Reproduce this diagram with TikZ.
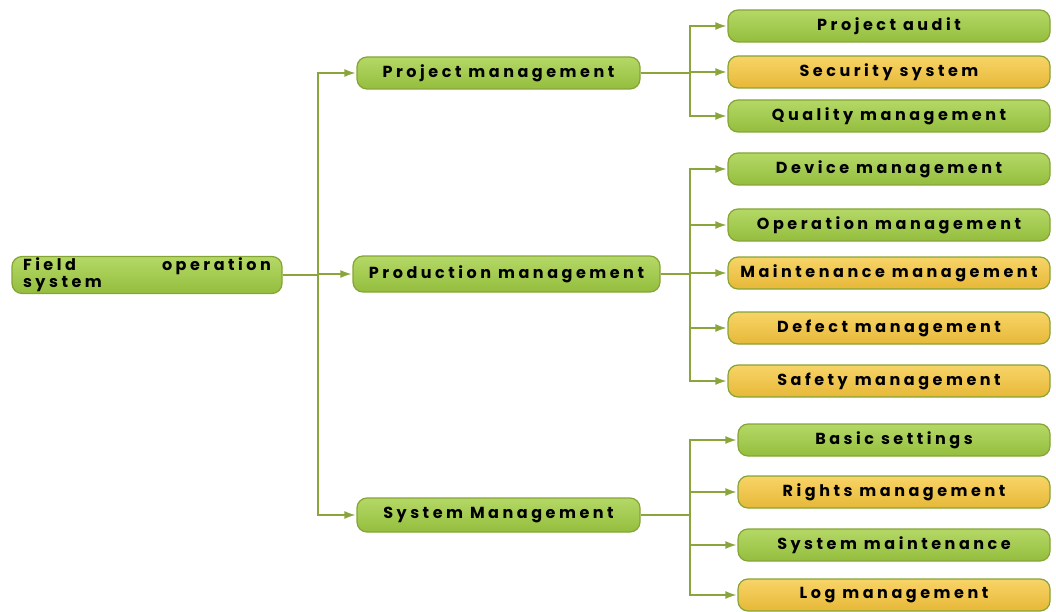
\documentclass[tikz,border=0pt]{standalone}
\usepackage{fontspec}
\setmainfont{Poppins}
\newfontfamily\boxfont[LetterSpace=22]{Poppins}
\usetikzlibrary{arrows.meta}
\definecolor{lineolive}{HTML}{8AA53C}
\definecolor{edgeolive}{HTML}{86A436}
\definecolor{grtop}{HTML}{B4D866}
\definecolor{grmid}{HTML}{A6CE50}
\definecolor{grbot}{HTML}{94BE3E}
\definecolor{yetop}{HTML}{F8D467}
\definecolor{yemid}{HTML}{F3C845}
\definecolor{yebot}{HTML}{E6B838}
\begin{document}
\begin{tikzpicture}
  [x=1pt,y=-1pt,
   every node/.style={rounded corners=10pt,draw=edgeolive,line width=1.2pt,inner sep=0pt,
     font=\boxfont\bfseries\fontsize{16}{17}\selectfont,text=black},
   greenbox/.style={top color=grtop,middle color=grmid,bottom color=grbot},
   yellowbox/.style={top color=yetop,middle color=yemid,bottom color=yebot},
   link/.style={draw=lineolive,line width=2.4pt,-{Latex[length=12pt,width=8pt]}}]
  \useasboundingbox (0,0) rectangle (1056,612);

  \node[greenbox,minimum width=270pt,minimum height=37pt] (root) at (147,275)
    {\parbox{248pt}{Field\hfill operation\\system}};

  \node[greenbox,minimum width=283pt,minimum height=32pt] (proj) at (498.5,73) {Project management};
  \node[greenbox,minimum width=307pt,minimum height=36pt] (prod) at (506.5,274) {Production management};
  \node[greenbox,minimum width=283pt,minimum height=34pt] (sys) at (498.5,515) {System Management};

  \node[greenbox,minimum width=322pt,minimum height=32pt] (audit) at (889,26) {Project audit};
  \node[yellowbox,minimum width=322pt,minimum height=32pt] (secur) at (889,72) {Security system};
  \node[greenbox,minimum width=322pt,minimum height=32pt] (qual) at (889,116) {Quality management};
  \node[greenbox,minimum width=322pt,minimum height=32pt] (dev) at (889,169) {Device management};
  \node[greenbox,minimum width=322pt,minimum height=32pt] (oper) at (889,225) {Operation management};
  \node[yellowbox,minimum width=322pt,minimum height=32pt] (maint) at (889,273) {Maintenance management};
  \node[yellowbox,minimum width=322pt,minimum height=32pt] (defect) at (889,328) {Defect management};
  \node[yellowbox,minimum width=322pt,minimum height=32pt] (safety) at (889,381) {Safety management};
  \node[greenbox,minimum width=312pt,minimum height=32pt] (basic) at (894,440) {Basic settings};
  \node[yellowbox,minimum width=312pt,minimum height=32pt] (rights) at (894,492) {Rights management};
  \node[greenbox,minimum width=312pt,minimum height=32pt] (sysmt) at (894,545) {System maintenance};
  \node[yellowbox,minimum width=312pt,minimum height=32pt] (logm) at (894,595) {Log management};

  \coordinate (trunk) at (318,0);
  \coordinate (fork) at (690,0);

  \foreach \to in {proj,prod,sys}
    \draw[link] (root.east) -- (trunk |- root.east) |- (\to.west);
  \foreach \from/\to in {proj/audit,proj/secur,proj/qual,prod/dev,prod/oper,prod/maint,
      prod/defect,prod/safety,sys/basic,sys/rights,sys/sysmt,sys/logm}
    \draw[link] (\from.east) -- (fork |- \from.east) |- (\to.west);
\end{tikzpicture}
\end{document}
